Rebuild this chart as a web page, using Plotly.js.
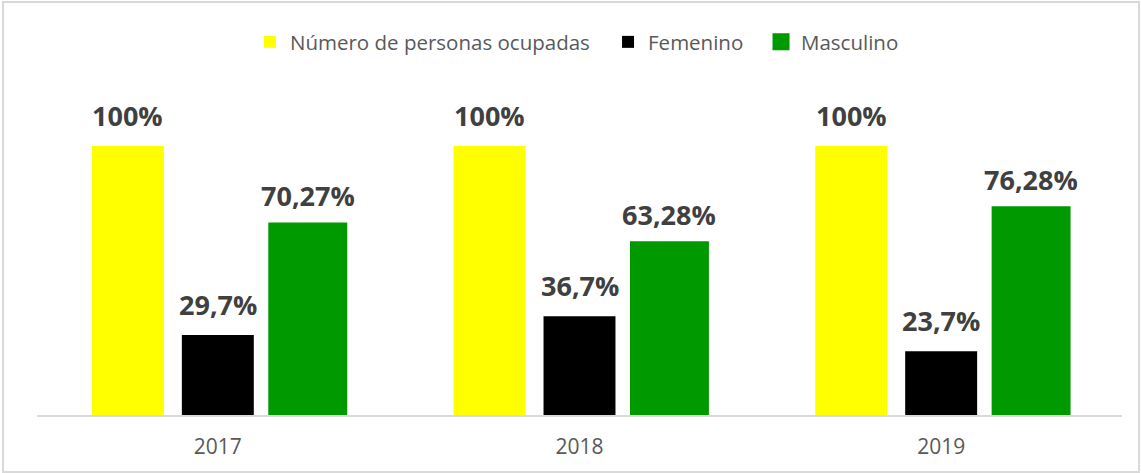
<!DOCTYPE html>
<html>
<head>
<meta charset="utf-8">
<script src="https://cdn.plot.ly/plotly-3.0.1.min.js"></script>
<style>
  html, body { margin: 0; padding: 0; background: #fff; }
  #wrap { position: relative; width: 1141px; height: 473px; }
  #chart { position: absolute; left: 0; top: 0; width: 1141px; height: 473px; }
  #frame { position: absolute; left: 2px; top: 1px; width: 1134px; height: 468px;
           border: 2px solid #d9d9d9; pointer-events: none; }
</style>
</head>
<body>
<div id="wrap"><div id="chart"></div><div id="frame"></div></div>
<script>
// ---- data ----
const years = ['2017', '2018', '2019'];
const seriesNames = ['Número de personas ocupadas', 'Femenino', 'Masculino'];
const ocupadas = [100, 100, 100];
const femenino = [29.7, 36.7, 23.7];
const masculino = [70.27, 63.28, 76.28];
const ocupadasLabels = ['100%', '100%', '100%'];
const femeninoLabels = ['29,7%', '36,7%', '23,7%'];
const masculinoLabels = ['70,27%', '63,28%', '76,28%'];

// ---- styling ----
const colors = ['#ffff00', '#000000', '#009900'];
const W = 1141, H = 473;
const margin = {l: 37, r: 19, t: 100, b: 58};
const bargap = 0.254, bargroupgap = 0.2;
const yMax = 117.1;
const legendNames = ['legend', 'legend2', 'legend3'];
const legendX = [0.1963, 0.5263, 0.6673];

const values = [ocupadas, femenino, masculino];
const labels = [ocupadasLabels, femeninoLabels, masculinoLabels];

const traces = values.map((v, i) => ({
  type: 'bar',
  name: seriesNames[i],
  x: years,
  y: v,
  legend: legendNames[i],
  marker: {
    color: colors[i],
    line: i === 2 ? {color: '#009900', width: 7} : {width: 0}
  },
  hoverinfo: 'skip'
}));

// label annotations, shifted to the slot of each series within the group
const plotW = W - margin.l - margin.r;
const slot = plotW / years.length * (1 - bargap) / values.length;
const annotations = [];
values.forEach((v, i) => {
  v.forEach((val, j) => {
    annotations.push({
      x: j, y: val, xref: 'x', yref: 'y',
      text: '<b>' + labels[i][j] + '</b>',
      showarrow: false, yanchor: 'bottom', xanchor: 'center',
      xshift: (i - 1) * slot, yshift: 10,
      font: {family: 'Open Sans', size: 27, color: '#404040'}
    });
  });
});

const layout = {
  width: W, height: H,
  margin: margin,
  paper_bgcolor: '#ffffff', plot_bgcolor: '#ffffff',
  barmode: 'group', bargap: bargap, bargroupgap: bargroupgap,
  showlegend: true,
  xaxis: {
    type: 'category', range: [-0.5, years.length - 0.5],
    showline: true, linecolor: '#d9d9d9', linewidth: 2,
    ticks: '', showgrid: false, zeroline: false,
    ticklabelstandoff: 12,
    tickfont: {family: 'Open Sans', size: 21, color: '#595959'},
    fixedrange: true
  },
  yaxis: {
    range: [0, yMax], visible: false, showgrid: false, zeroline: false,
    fixedrange: true
  },
  annotations: annotations
};
legendNames.forEach((ln, i) => {
  layout[ln] = {
    orientation: 'h', x: legendX[i], xanchor: 'left', y: 1.184, yanchor: 'middle',
    font: {family: 'Open Sans', size: 20.5, color: '#595959'},
    bgcolor: 'rgba(0,0,0,0)',
    itemclick: false, itemdoubleclick: false
  };
});

Plotly.newPlot('chart', traces, layout, {displayModeBar: false, staticPlot: true});
</script>
</body>
</html>
